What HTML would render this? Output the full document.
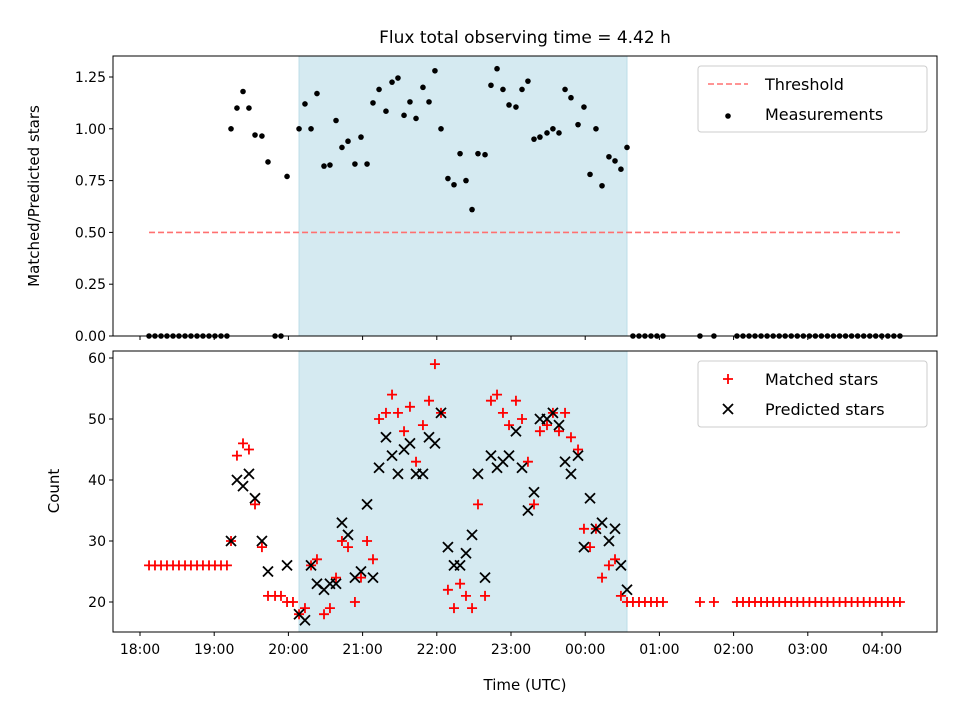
<!DOCTYPE html>
<html><head><meta charset="utf-8"><style>
html,body{margin:0;padding:0;background:#fff;}
svg{display:block;font-family:"DejaVu Sans","Liberation Sans",sans-serif;}
</style></head><body>
<svg id="fig" width="960" height="720" xmlns="http://www.w3.org/2000/svg">
<rect width="960" height="720" fill="#fff"/>
<text x="525" y="43" font-size="17" text-anchor="middle">Flux total observing time = 4.42 h</text>
<g id="topPanel"></g>
<g id="botPanel"></g>
<text transform="translate(39,196) rotate(-90)" font-size="15" text-anchor="middle">Matched/Predicted stars</text>
<text transform="translate(59,491) rotate(-90)" font-size="15" text-anchor="middle">Count</text>
<text x="525" y="690" font-size="15" text-anchor="middle">Time (UTC)</text>
</svg>
<script>
// minutes since 18:00
const times = [7.3,12.1,17,21.8,26.7,31.5,36.4,41.2,46.1,50.9,55.8,60.6,65.5,70.3,
73.6,78.4,83.3,88.1,93.0,98.6,103.5,109.2,114.0,118.9,123.7,128.6,133.4,138.3,143.1,148.8,153.6,158.5,163.3,168.2,173.8,178.7,183.6,188.4,193.3,198.9,203.8,208.6,213.5,218.3,223.2,228.8,233.7,238.5,243.4,249.0,253.9,258.8,263.6,268.5,273.3,279.0,283.8,288.7,293.5,298.4,304.0,308.9,313.7,318.6,323.4,329.1,333.9,338.8,343.7,348.5,354.2,359.0,363.9,368.7,373.6,379.2,384.1,388.9,393.8,
398.6,403.5,408.3,413.2,418.0,422.9,452.8,464.1,
482.7,487.6,492.5,497.3,502.2,507.1,512.0,516.9,521.7,526.6,531.5,536.4,541.3,546.1,551.0,555.9,560.8,565.7,570.5,575.4,580.3,585.2,590.1,594.9,599.8,604.7,609.6,614.5];
const ratio = [0,0,0,0,0,0,0,0,0,0,0,0,0,0,
1.00,1.10,1.18,1.10,0.97,0.965,0.84,0,0,0.77,null,1.00,1.12,1.00,1.17,0.82,0.825,1.04,0.91,0.94,0.83,0.96,0.83,1.125,1.19,1.085,1.225,1.245,1.065,1.13,1.05,1.20,1.13,1.28,1.00,0.76,0.73,0.88,0.75,0.61,0.88,0.875,1.21,1.29,1.19,1.115,1.105,1.19,1.23,0.95,0.96,0.98,1.00,0.98,1.19,1.15,1.02,1.105,0.78,1.00,0.725,0.865,0.845,0.805,0.91,
0,0,0,0,0,0,0,0,
0,0,0,0,0,0,0,0,0,0,0,0,0,0,0,0,0,0,0,0,0,0,0,0,0,0,0,0];
const matched = [26,26,26,26,26,26,26,26,26,26,26,26,26,26,
30,44,46,45,36,29,21,21,21,20,20,18,19,26,27,18,19,24,30,29,20,24,30,27,50,51,54,51,48,52,43,49,53,59,51,22,19,23,21,19,36,21,53,54,51,49,53,50,43,36,48,49,51,48,51,47,45,32,29,32,24,26,27,21,20,
20,20,20,20,20,20,20,20,
20,20,20,20,20,20,20,20,20,20,20,20,20,20,20,20,20,20,20,20,20,20,20,20,20,20,20,20];
const predicted = [null,null,null,null,null,null,null,null,null,null,null,null,null,null,
30,40,39,41,37,30,25,null,null,26,null,18,17,26,23,22,23,23,33,31,24,25,36,24,42,47,44,41,45,46,41,41,47,46,51,29,26,26,28,31,41,24,44,42,43,44,48,42,35,38,50,50,51,49,43,41,44,29,37,32,33,30,32,26,22];
const shadeSpan = [128.6, 393.8];
const threshold = 0.5;
const thresholdSpan = [7.3, 614.5];
const ratioTicks = [0,0.25,0.5,0.75,1.0,1.25];
const ratioTickLabels = ["0.00","0.25","0.50","0.75","1.00","1.25"];
const countTicks = [20,30,40,50,60];
const hourTicks = [0,60,120,180,240,300,360,420,480,540,600];
const hourLabels = ["18:00","19:00","20:00","21:00","22:00","23:00","00:00","01:00","02:00","03:00","04:00"];

const NS="http://www.w3.org/2000/svg";
const L=113,R=937, T1=56,B1=336, T2=351,B2=632;
const xs = m => 140 + m*74.2/60;
const yr = v => 336 - v*207.2;
const yc = c => 602 - (c-20)*6.1;
function mk(parent,tag,attrs){const e=document.createElementNS(NS,tag);for(const k in attrs)e.setAttribute(k,attrs[k]);parent.appendChild(e);return e;}
const topG=document.getElementById('topPanel'), botG=document.getElementById('botPanel');

// shading
[[topG,T1,B1,'shade-top'],[botG,T2,B2,'shade-bottom']].forEach(([g,t,b,n])=>{
  const r=mk(g,'rect',{x:xs(shadeSpan[0]),y:t,width:xs(shadeSpan[1])-xs(shadeSpan[0]),height:b-t,fill:'#d5eaf1',stroke:'#bcdde8','stroke-width':1});
  
  
});

// threshold
const th=mk(topG,'line',{x1:xs(thresholdSpan[0]),x2:xs(thresholdSpan[1]),y1:yr(threshold),y2:yr(threshold),stroke:'#ff7070','stroke-width':1.6,'stroke-dasharray':'6,3'});



// measurements
times.forEach((t,i)=>{ if(ratio[i]===null) return;
  const c=mk(topG,'circle',{cx:xs(t),cy:yr(ratio[i]),r:2.8,fill:'#000'});
  
  
});
// matched +
times.forEach((t,i)=>{ if(matched[i]===null||matched[i]===undefined) return;
  const x=xs(t), y=yc(matched[i]);
  const p=mk(botG,'path',{d:`M${x-5},${y}H${x+5}M${x},${y-5}V${y+5}`,stroke:'#f00','stroke-width':1.8,fill:'none'});
  
  
});
// predicted x
times.forEach((t,i)=>{ if(i>=predicted.length||predicted[i]===null) return;
  const x=xs(t), y=yc(predicted[i]);
  const p=mk(botG,'path',{d:`M${x-5},${y-5}L${x+5},${y+5}M${x-5},${y+5}L${x+5},${y-5}`,stroke:'#000','stroke-width':1.8,fill:'none'});
  
  
});

// frames
[[topG,T1,B1,'axes-frame-top'],[botG,T2,B2,'axes-frame-bottom']].forEach(([g,t,b,n])=>{
  const r=mk(g,'rect',{x:L,y:t,width:R-L,height:b-t,fill:'none',stroke:'#000','stroke-width':1});
  
  
});
// x ticks
hourTicks.forEach((h,i)=>{
  const x=xs(h);
  mk(topG,'line',{x1:x,x2:x,y1:B1,y2:B1+4,stroke:'#000'});
  mk(botG,'line',{x1:x,x2:x,y1:B2,y2:B2+4,stroke:'#000'});
  const tx=mk(botG,'text',{x:x,y:B2+22,'font-size':14,'text-anchor':'middle'});
  tx.textContent=hourLabels[i];
  
  
});
ratioTicks.forEach((v,i)=>{
  const y=yr(v);
  mk(topG,'line',{x1:L-4,x2:L,y1:y,y2:y,stroke:'#000'});
  const tx=mk(topG,'text',{x:L-7,y:y+5,'font-size':14,'text-anchor':'end'});
  tx.textContent=ratioTickLabels[i];
  
  
});
countTicks.forEach(v=>{
  const y=yc(v);
  mk(botG,'line',{x1:L-4,x2:L,y1:y,y2:y,stroke:'#000'});
  const tx=mk(botG,'text',{x:L-7,y:y+5,'font-size':14,'text-anchor':'end'});
  tx.textContent=String(v);
  
  
});

// legends
function legend(g,y0,name,items){
  const box=mk(g,'rect',{x:698,y:y0,width:229,height:66,rx:3,fill:'#fff','fill-opacity':0.8,stroke:'#ccc'});
  
  
  items.forEach((it,i)=>{
    const y=y0+18+i*30;
    it.draw(y);
    const tx=mk(g,'text',{x:765,y:y+6,'font-size':16});
    tx.textContent=it.label;
    
    
  });
}
legend(topG,66,'legend-top',[
  {label:'Threshold',draw:y=>mk(topG,'line',{x1:708,x2:748,y1:y,y2:y,stroke:'#ff7070','stroke-width':1.6,'stroke-dasharray':'6,3'})},
  {label:'Measurements',draw:y=>mk(topG,'circle',{cx:728,cy:y+2,r:2.8,fill:'#000'})}
]);
legend(botG,361,'legend-bottom',[
  {label:'Matched stars',draw:y=>mk(botG,'path',{d:`M723,${y}H733M728,${y-5}V${y+5}`,stroke:'#f00','stroke-width':1.8})},
  {label:'Predicted stars',draw:y=>mk(botG,'path',{d:`M723,${y-5}L733,${y+5}M723,${y+5}L733,${y-5}`,stroke:'#000','stroke-width':1.8})}
]);
</script>
</body></html>
